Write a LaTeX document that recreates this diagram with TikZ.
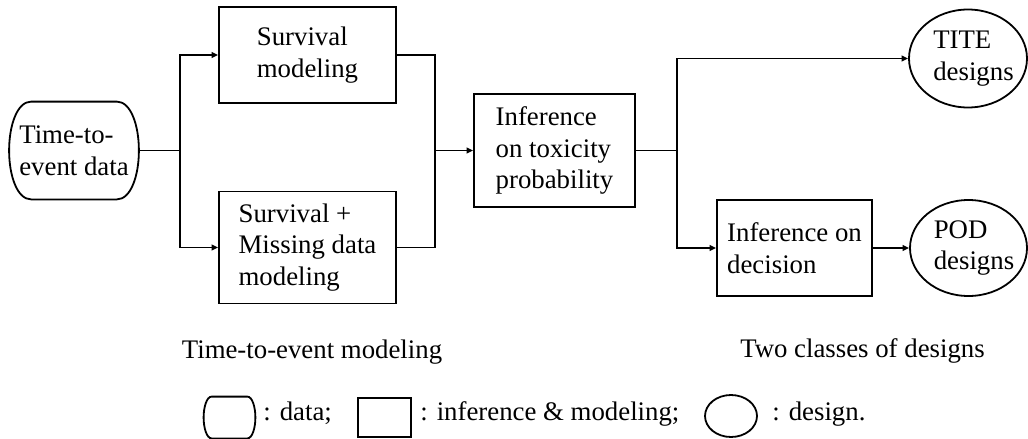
\documentclass[tikz,border=0pt]{standalone}
\usepackage{fontspec}
\setmainfont{Liberation Serif}
\usetikzlibrary{shapes.geometric,arrows.meta,calc}
\tikzset{
  shapeline/.style={draw=black, line width=0.9pt},
  txt/.style={font=\fontsize{13.4}{15.8}\selectfont, align=left, inner sep=0pt},
  box/.style={shapeline, rectangle, txt},
  designnode/.style={shapeline, ellipse, txt, inner xsep=-4pt},
  datanode/.style={rectangle, draw=none, txt},
  conn/.style={line width=0.9pt},
  arr/.style={conn, -{Triangle[length=3.2pt,width=2.8pt]}},
  lbl/.style={font=\fontsize{13.4}{15.8}\selectfont, inner sep=0pt, anchor=base},
}
\newcommand{\dataoutline}[4]{%
  \draw[shapeline] ($(#1.north west)+(#2,0)$) -- ($(#1.north east)+(-#2,0)$)
    .. controls ($(#1.north east)+(-#3,0)$) and ($(#1.east)+(0,-#4)$) .. (#1.east)
    .. controls ($(#1.east)+(0,#4)$) and ($(#1.south east)+(-#3,0)$) .. ($(#1.south east)+(-#2,0)$)
    -- ($(#1.south west)+(#2,0)$)
    .. controls ($(#1.south west)+(#3,0)$) and ($(#1.west)+(0,#4)$) .. (#1.west)
    .. controls ($(#1.west)+(0,-#4)$) and ($(#1.north west)+(#3,0)$) .. cycle;}
\newcommand{\ind}{\hspace*{5.5pt}}
\begin{document}
\begin{tikzpicture}[x=0.5pt,y=-0.5pt]
\useasboundingbox (0,0) rectangle (1028,439);
% main nodes
\node[datanode, minimum width=64.5pt, minimum height=48.5pt] (data) at (74,150.5) {Time-to-\\event data};
\dataoutline{data}{22}{8}{25}
\node[box, minimum width=88.5pt, minimum height=48pt] (surv) at (307.5,55) {Survival\\modeling};
\node[box, minimum width=88.5pt, minimum height=56pt] (miss) at (307.5,247.5) {Survival +\\Missing data\\modeling};
\node[box, minimum width=80.5pt, minimum height=56.5pt] (infer) at (554.5,150.5) {Inference\\on toxicity\\probability};
\node[box, minimum width=77.5pt, minimum height=48pt] (dec) at (794.5,248) {Inference on\\decision};
\node[designnode, minimum width=59pt, minimum height=49pt] (tite) at (968,58.5) {\ind TITE\\\ind designs};
\node[designnode, minimum width=58.5pt, minimum height=48pt] (pod) at (968.5,248) {\ind POD\\\ind designs};
% junctions
\coordinate (j1) at (180,150.5);
\coordinate (j2) at (435,150.5);
\coordinate (j3) at (677,150.5);
% connectors
\draw[conn] (data.east) -- (j1);
\draw[arr] (j1) |- (surv.west);
\draw[arr] (j1) |- (miss.west);
\draw[conn] (surv.east) -| (j2) |- (miss.east);
\draw[arr] (j2) -- (infer.west);
\draw[conn] (infer.east) -- (j3);
\draw[arr] (j3) |- (tite.west);
\draw[arr] (j3) |- (dec.west);
\draw[arr] (dec.east) -- (pod.west);
% captions
\node[lbl] (cap1) at (312,358) {Time-to-event modeling};
\node[lbl] (cap2) at (862.5,357) {Two classes of designs};
% legend
\node[datanode, minimum width=25.5pt, minimum height=20.5pt] (legdata) at (229.5,417.5) {};
\dataoutline{legdata}{8}{3}{10}
\node[lbl, anchor=base west] (legdatat) at (263,420) {: data;};
\node[shapeline, rectangle, inner sep=0pt, minimum width=26.5pt, minimum height=19.5pt] (legbox) at (384.5,417.5) {};
\node[lbl, anchor=base west] (legboxt) at (420,420) {: inference \& modeling;};
\node[shapeline, ellipse, inner sep=0pt, minimum width=26pt, minimum height=21pt] (legell) at (731,416) {};
\node[lbl, anchor=base west] (legellt) at (772,420) {: design.};
\end{tikzpicture}
\end{document}
